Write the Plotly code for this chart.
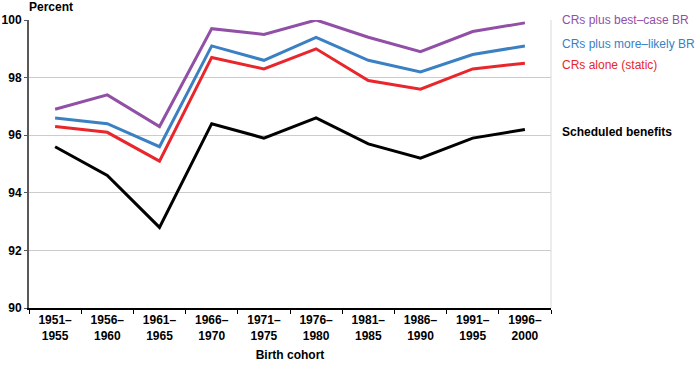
import plotly.graph_objects as go

cohorts = ["1951–<br>1955", "1956–<br>1960", "1961–<br>1965", "1966–<br>1970", "1971–<br>1975",
           "1976–<br>1980", "1981–<br>1985", "1986–<br>1990", "1991–<br>1995", "1996–<br>2000"]
best_case = [96.9, 97.4, 96.3, 99.7, 99.5, 100.0, 99.4, 98.9, 99.6, 99.9]
more_likely = [96.6, 96.4, 95.6, 99.1, 98.6, 99.4, 98.6, 98.2, 98.8, 99.1]
crs_alone = [96.3, 96.1, 95.1, 98.7, 98.3, 99.0, 97.9, 97.6, 98.3, 98.5]
scheduled = [95.6, 94.6, 92.8, 96.4, 95.9, 96.6, 95.7, 95.2, 95.9, 96.2]

series = [
    ("CRs plus best–case BR", best_case, "#9150A6", False, 100.0),
    ("CRs plus more–likely BR", more_likely, "#3A80C3", False, 99.15),
    ("CRs alone (static)", crs_alone, "#E8262B", False, 98.45),
    ("Scheduled benefits", scheduled, "#000000", True, 96.1),
]

fig = go.Figure()
for name, vals, color, bold, ly in series:
    fig.add_trace(go.Scatter(x=cohorts, y=vals, mode="lines", name=name,
                             line=dict(color=color, width=3), showlegend=False,
                             hoverinfo="skip"))
    fig.add_annotation(x=1, xref="paper", y=ly, yref="y", xanchor="left", yanchor="middle",
                       xshift=9, showarrow=False,
                       text=f"<b>{name}</b>" if bold else name,
                       font=dict(color=color, size=12, family="Liberation Sans, Arial"))

fig.add_annotation(x=0, xref="paper", y=1, yref="paper", xshift=-2, yshift=4,
                   xanchor="left", yanchor="bottom", showarrow=False,
                   text="<b>Percent</b>", font=dict(size=12, color="#000",
                                                    family="Liberation Sans, Arial"))

fig.update_layout(
    width=699, height=367,
    margin=dict(l=29, r=148, t=20, b=59),
    paper_bgcolor="white", plot_bgcolor="white",
    font=dict(family="Liberation Sans, Arial", size=12, color="#000"),
    xaxis=dict(
        type="category", tickson="boundaries", ticks="outside", ticklen=4,
        tickcolor="#000", tickwidth=1, automargin=False,
        showline=True, linecolor="#000", linewidth=2,
        showgrid=False, mirror=False,
        tickfont=dict(size=12, color="#000", weight="bold"),
        title=dict(text="<b>Birth cohort</b>", font=dict(size=12), standoff=9),
        range=[-0.5, 9.5],
    ),
    yaxis=dict(
        range=[90, 100], tickvals=[90, 92, 94, 96, 98, 100],
        ticks="outside", ticklen=3, tickcolor="#555", automargin=False,
        showline=True, linecolor="#595959", linewidth=2,
        showgrid=True, gridcolor="#CCCCCC", gridwidth=1,
        zeroline=False,
        tickfont=dict(size=12, color="#000", weight="bold"),
    ),
    shapes=[dict(type="line", xref="paper", yref="paper", x0=1, x1=1, y0=0, y1=1,
                 line=dict(color="#D9D9D9", width=1))],
)

fig.write_html("out.html", config={"displayModeBar": False},
               post_script="document.body.style.margin='0';document.body.style.overflow='hidden';")
